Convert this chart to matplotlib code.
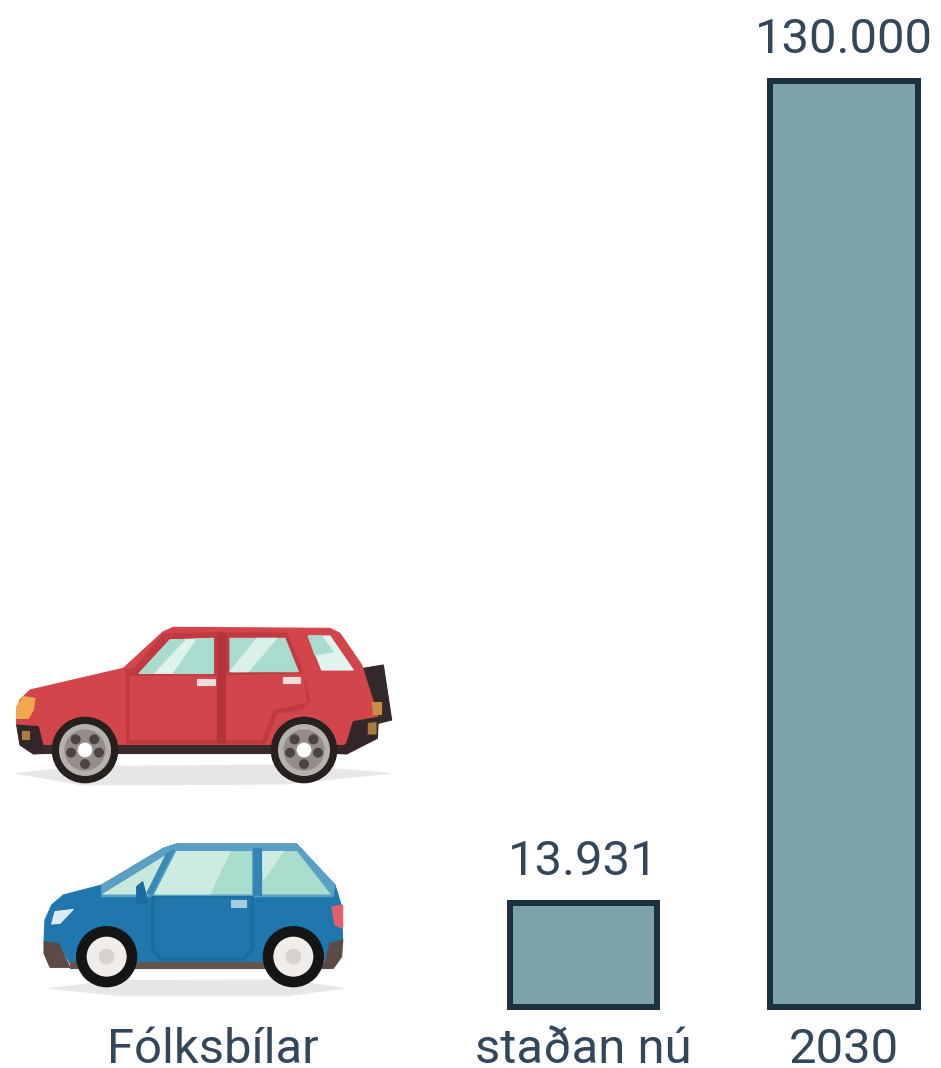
import matplotlib
matplotlib.use('Agg')
import matplotlib.pyplot as plt
from matplotlib.patches import Polygon, Circle

plt.rcParams['font.family'] = ['Roboto', 'DejaVu Sans']

labels = ['staðan nú', '2030']
values = [13931, 130000]
car_label = 'Fólksbílar'

# the bars do not start exactly from zero in the picture
base = -750
top = 130000

W, H = 941, 1068
BAR = '#7ba3a7'
EDGE = '#1d3040'
TEXT = '#34465a'
px = 1 / 100 * 72


def poly(ax, pts, x0, y0, color, z=2):
    xy = [(x0 + a / 3, y0 + b / 3) for a, b in pts]
    ax.add_patch(Polygon(xy, closed=True, fc=color, ec=color, lw=0.8, joinstyle='round', zorder=z))


def circ(ax, c, r, x0, y0, color, z=3):
    ax.add_patch(Circle((x0 + c[0] / 3, y0 + c[1] / 3), r / 3, fc=color, ec='none', zorder=z))


def red_car(ax, x0, y0):
    poly(ax, [(50, 490), (250, 470), (850, 465), (1170, 490), (850, 522), (250, 525)], x0, y0, '#e7e7e7')
    poly(ax, [(1090, 175), (1150, 165), (1175, 330), (1135, 340)], x0, y0, '#33292a')
    poly(ax, [(50, 345), (50, 300), (60, 270), (90, 240), (370, 175), (490, 65), (520, 52), (990, 55), (1020, 70),
              (1085, 165), (1115, 260), (1135, 325), (1060, 335), (1040, 405), (130, 405), (115, 350)],
         x0, y0, '#d2454b')
    # door seams and arches, darker red
    poly(ax, [(405, 175), (490, 72), (660, 68), (860, 70), (905, 175), (930, 270), (905, 298), (830, 310),
              (795, 400), (380, 400), (378, 180)], x0, y0, '#c03a41')
    poly(ax, [(390, 200), (650, 198), (650, 388), (390, 388)], x0, y0, '#d2454b')
    poly(ax, [(675, 198), (910, 192), (918, 278), (820, 298), (785, 388), (675, 388)], x0, y0, '#d2454b')
    poly(ax, [(650, 70), (675, 70), (675, 395), (650, 395)], x0, y0, '#b5343b')
    # lower dark parts
    poly(ax, [(50, 345), (115, 350), (135, 430), (100, 432), (60, 405)], x0, y0, '#33262a')
    poly(ax, [(130, 405), (1040, 405), (1040, 430), (130, 430)], x0, y0, '#3a2a2b')
    poly(ax, [(1060, 335), (1135, 322), (1132, 385), (1040, 432), (1010, 430), (1040, 400)], x0, y0, '#33262a')
    poly(ax, [(65, 362), (88, 362), (88, 388), (65, 388)], x0, y0, '#a97d3b')
    poly(ax, [(1105, 340), (1128, 338), (1128, 372), (1105, 372)], x0, y0, '#a97d3b')
    poly(ax, [(1115, 275), (1142, 275), (1142, 312), (1120, 312)], x0, y0, '#c98d45')
    # windows
    poly(ax, [(418, 190), (510, 90), (640, 85), (640, 190)], x0, y0, '#dff3ee')
    poly(ax, [(590, 85), (640, 85), (640, 190), (520, 190)], x0, y0, '#a9dccf')
    poly(ax, [(418, 190), (510, 90), (555, 88), (460, 190)], x0, y0, '#a9dccf')
    poly(ax, [(690, 85), (855, 85), (895, 185), (690, 185)], x0, y0, '#a9dccf')
    poly(ax, [(690, 185), (770, 85), (830, 85), (745, 185)], x0, y0, '#d9f0ea')
    poly(ax, [(925, 78), (990, 78), (1060, 180), (965, 180)], x0, y0, '#e0f4ef')
    poly(ax, [(925, 78), (965, 78), (1000, 125), (945, 135)], x0, y0, '#a9dccf')
    # handles and lights
    poly(ax, [(590, 207), (645, 207), (645, 225), (590, 225)], x0, y0, '#f3dcdc')
    poly(ax, [(850, 200), (900, 200), (900, 220), (850, 220)], x0, y0, '#f3dcdc')
    poly(ax, [(50, 325), (50, 290), (70, 260), (105, 265), (100, 300), (85, 325)], x0, y0, '#f0a94c')
    # wheels
    for c in [(255, 420), (912, 420)]:
        circ(ax, c, 100, x0, y0, '#26201f')
        circ(ax, c, 78, x0, y0, '#b7b1ae')
        circ(ax, c, 62, x0, y0, '#938c89')
        for d in [(-28, -32), (28, -32), (42, 8), (0, 42), (-42, 8)]:
            ax.add_patch(Circle((x0 + (c[0] + d[0]) / 3, y0 + (c[1] + d[1]) / 3), 5, fc='#4b4443', ec='none', zorder=4))
        circ(ax, c, 22, x0, y0, 'white', z=5)


def blue_car(ax, x0, y0):
    poly(ax, [(90, 475), (300, 452), (800, 450), (970, 475), (800, 497), (300, 497)], x0, y0, '#e7e7e7')
    poly(ax, [(72, 335), (75, 270), (95, 225), (130, 195), (245, 165), (430, 55), (470, 42), (830, 42), (945, 165),
              (965, 230), (968, 335), (930, 340), (910, 400), (150, 400), (115, 340)], x0, y0, '#1f77ad')
    poly(ax, [(245, 165), (430, 55), (470, 42), (830, 42), (945, 165), (940, 200), (245, 200)], x0, y0, '#5a9fc4')
    poly(ax, [(395, 200), (700, 200), (700, 360), (670, 390), (420, 390), (395, 360)], x0, y0, '#1b6c9f')
    poly(ax, [(405, 205), (690, 205), (690, 355), (665, 380), (425, 380), (405, 355)], x0, y0, '#1f77ad')
    poly(ax, [(72, 335), (115, 340), (150, 412), (90, 412), (72, 370)], x0, y0, '#5e4a44')
    poly(ax, [(150, 395), (930, 395), (930, 415), (150, 415)], x0, y0, '#65534e')
    poly(ax, [(910, 415), (930, 340), (968, 330), (965, 380), (940, 415)], x0, y0, '#5e4a44')
    # windows
    poly(ax, [(250, 192), (440, 75), (385, 192)], x0, y0, '#c8e8de')
    poly(ax, [(405, 192), (470, 65), (695, 65), (695, 192)], x0, y0, '#aadccc')
    poly(ax, [(405, 192), (470, 65), (630, 65), (570, 192)], x0, y0, '#cdebe1')
    poly(ax, [(725, 65), (830, 65), (930, 192), (725, 192)], x0, y0, '#aadccc')
    poly(ax, [(725, 65), (790, 65), (730, 150)], x0, y0, '#cdebe1')
    poly(ax, [(698, 55), (722, 55), (722, 195), (698, 195)], x0, y0, '#3383b3')
    poly(ax, [(350, 170), (368, 155), (385, 220), (350, 220)], x0, y0, '#1b6c9f')
    poly(ax, [(440, 70), (462, 60), (395, 195), (380, 190)], x0, y0, '#3a8ab6')
    # lights and handle
    poly(ax, [(935, 230), (968, 225), (968, 295), (945, 285)], x0, y0, '#e2606c')
    poly(ax, [(95, 282), (105, 245), (160, 238), (120, 280)], x0, y0, '#dcebf2')
    poly(ax, [(632, 210), (678, 210), (678, 230), (632, 230)], x0, y0, '#a5cde0')
    # wheels
    for c in [(260, 380), (820, 380)]:
        circ(ax, c, 92, x0, y0, '#151515')
        circ(ax, c, 60, x0, y0, '#f1edeb')
        circ(ax, c, 24, x0, y0, '#d9d3cf')


fig = plt.figure(figsize=(W / 100, H / 100), dpi=100, facecolor='white')

# bars, their axes ends at the baseline of the bars
y_base = 1007
y_top = 81
scale = (top - base) / (y_base - y_top)
ax = fig.add_axes([0, 1 - y_base / H, 1, y_base / H])
ax.set_ylim(base, top + y_top * scale)
spacing = 260.5
ax.set_xlim(-583.5 / spacing, (W - 583.5) / spacing)

xs = list(range(len(values)))
heights = [v - base for v in values]
ax.bar(xs, heights, bottom=base, width=0.565, color=BAR, edgecolor=EDGE, linewidth=6 * px, clip_on=False,
       joinstyle='miter')
for x, v in zip(xs, values):
    ax.annotate(f'{v:,}'.replace(',', '.'), (x, v), xytext=(0, 28 * px), textcoords='offset points',
                ha='center', va='baseline', fontsize=49 * px, color=TEXT)

ax.set_xticks([(213 - 583.5) / spacing] + xs)
ax.set_xticklabels([car_label] + labels, fontsize=49 * px, color=TEXT)
ax.tick_params(axis='x', length=0, pad=20 * px)
ax.set_yticks([])
for s in ax.spines.values():
    s.set_visible(False)
ax.patch.set_alpha(0)

# overlay in pixels for the two car icons
icons = fig.add_axes([0, 0, 1, 1], zorder=-1)
icons.set_xlim(0, W)
icons.set_ylim(H, 0)
icons.axis('off')
red_car(icons, 0, 610)
blue_car(icons, 20, 830)

fig.savefig('out.png', dpi=100)
